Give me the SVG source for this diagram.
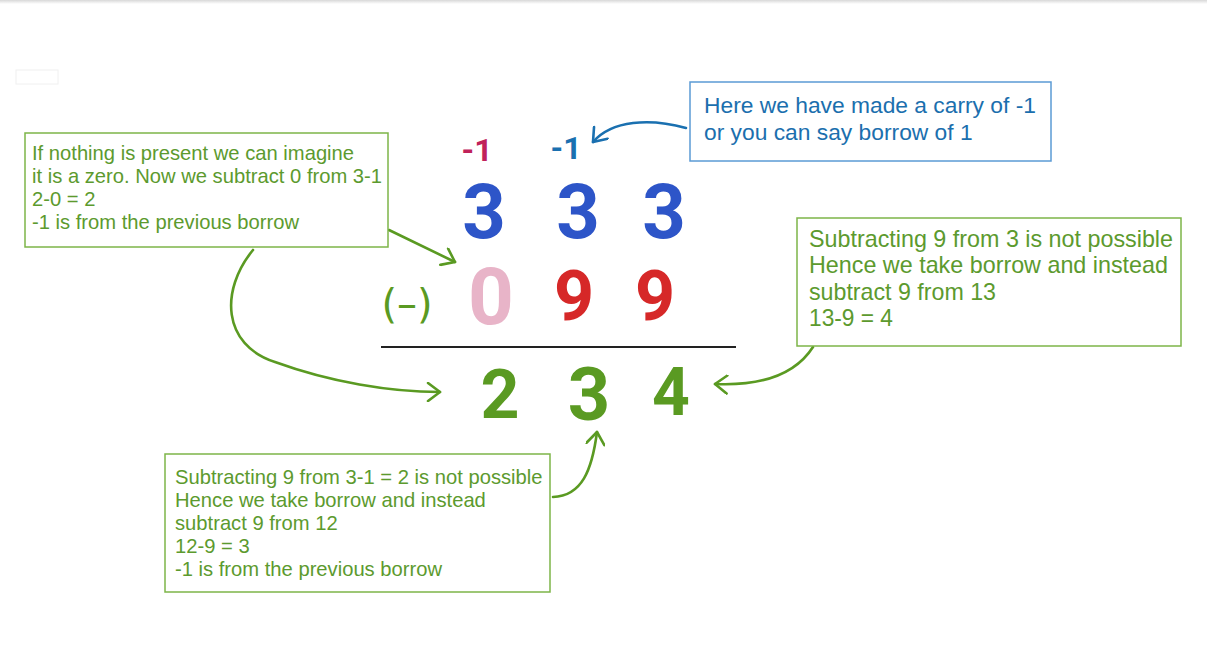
<svg xmlns="http://www.w3.org/2000/svg" width="1207" height="648" viewBox="0 0 1207 648">
<style>
.gbox{fill:#fff;stroke:#7db548;stroke-width:1.5}
.bbox{fill:#fff;stroke:#5b9bd5;stroke-width:1.5}
.gt{font-family:"Liberation Sans",Arial,sans-serif;font-size:20.2px;fill:#5c9a2e}
.rt{font-family:"Liberation Sans",Arial,sans-serif;font-size:24px;fill:#5c9a2e}
.bt{font-family:"Liberation Sans",Arial,sans-serif;font-size:22.8px;fill:#1b6fae}
.dig{font-family:Roboto,"DejaVu Sans",sans-serif;font-weight:700;text-anchor:middle}
.gline{fill:none;stroke:#5a9a22;stroke-width:2.6;stroke-linecap:round;stroke-linejoin:round}
.bline{fill:none;stroke:#1a70b0;stroke-width:2.6;stroke-linecap:round;stroke-linejoin:round}
</style>
<defs>
<linearGradient id="topsh" x1="0" y1="0" x2="0" y2="1"><stop offset="0" stop-color="#d8d8d8"/><stop offset="1" stop-color="#ffffff"/></linearGradient>
<marker id="ga" viewBox="-14 -10 16 20" refX="0" refY="0" markerWidth="16" markerHeight="20" markerUnits="userSpaceOnUse" orient="auto"><path d="M-12,-9 L0,0 L-12,9" fill="none" stroke="#5a9a22" stroke-width="2.6" stroke-linecap="round" stroke-linejoin="round"/></marker>
<marker id="ba" viewBox="-14 -10 16 20" refX="0" refY="0" markerWidth="16" markerHeight="20" markerUnits="userSpaceOnUse" orient="auto"><path d="M-12,-9 L0,0 L-12,9" fill="none" stroke="#1a70b0" stroke-width="2.6" stroke-linecap="round" stroke-linejoin="round"/></marker>
</defs>
<rect width="1207" height="648" fill="#fff"/>
<rect width="1207" height="4" fill="url(#topsh)"/>
<rect x="16" y="70" width="42" height="14" fill="#fff" stroke="#f0f0f0" stroke-width="1"/>

<g id="connectors">
<path class="gline" d="M389,230 L455,262" marker-end="url(#ga)"/>
<path class="gline" d="M253,250 C220,290 222,345 275,362 C330,382 390,392 440,392" marker-end="url(#ga)"/>
<path class="gline" d="M813,347 C795,375 760,386 715,384" marker-end="url(#ga)"/>
<path class="gline" d="M553,497 C582,496 592,470 597,432" marker-end="url(#ga)"/>
<path class="bline" d="M686,128 C650,118 612,120 593,142" marker-end="url(#ba)"/>
</g>

<g id="problem">
<text class="dig" x="477" y="161" font-size="32" fill="#c0225a">-1</text>
<text class="dig" x="566" y="159" font-size="32" fill="#1a70b0">-1</text>
<text class="dig" x="484" y="238" font-size="76" fill="#2d55c8">3</text>
<text class="dig" x="578" y="238" font-size="76" fill="#2d55c8">3</text>
<text class="dig" x="664" y="238" font-size="76" fill="#2d55c8">3</text>
<text x="407" y="318" font-family="'DejaVu Sans',sans-serif" font-size="40" fill="#5a9a22" text-anchor="middle">(–)</text>
<text class="dig" x="491" y="324" font-size="80" font-weight="400" fill="#e8b4c8">0</text>
<text class="dig" x="574" y="320" font-size="70" fill="#d62828">9</text>
<text class="dig" x="655" y="320" font-size="70" fill="#d62828">9</text>
<line x1="381" y1="347" x2="736" y2="347" stroke="#222" stroke-width="2.2"/>
<text class="dig" x="500" y="418" font-size="68" fill="#5a9a22">2</text>
<text class="dig" x="589" y="420" font-size="74" fill="#5a9a22">3</text>
<text class="dig" x="671" y="415" font-size="66" fill="#5a9a22">4</text>
</g>

<g id="note-left">
<rect class="gbox" x="25" y="133" width="363" height="114"/>
<text class="gt" x="32" y="160">If nothing is present we can imagine</text>
<text class="gt" x="32" y="183">it is a zero. Now we subtract 0 from 3-1</text>
<text class="gt" x="32" y="206">2-0 = 2</text>
<text class="gt" x="32" y="229">-1 is from the previous borrow</text>
</g>

<g id="note-carry">
<rect class="bbox" x="690" y="82" width="361" height="79"/>
<text class="bt" x="704" y="113">Here we have made a carry of -1</text>
<text class="bt" x="704" y="140">or you can say borrow of 1</text>
</g>

<g id="note-right">
<rect class="gbox" x="797" y="218" width="384" height="128"/>
<text class="rt" x="809" y="247" textLength="364" lengthAdjust="spacingAndGlyphs">Subtracting 9 from 3 is not possible</text>
<text class="rt" x="809" y="273" textLength="359" lengthAdjust="spacingAndGlyphs">Hence we take borrow and instead</text>
<text class="rt" x="809" y="300" textLength="187" lengthAdjust="spacingAndGlyphs">subtract 9 from 13</text>
<text class="rt" x="809" y="326" textLength="84" lengthAdjust="spacingAndGlyphs">13-9 = 4</text>
</g>

<g id="note-bottom">
<rect class="gbox" x="165" y="454" width="385" height="138"/>
<text class="gt" x="175" y="484">Subtracting 9 from 3-1 = 2 is not possible</text>
<text class="gt" x="175" y="507">Hence we take borrow and instead</text>
<text class="gt" x="175" y="530">subtract 9 from 12</text>
<text class="gt" x="175" y="553">12-9 = 3</text>
<text class="gt" x="175" y="576">-1 is from the previous borrow</text>
</g>
</svg>
